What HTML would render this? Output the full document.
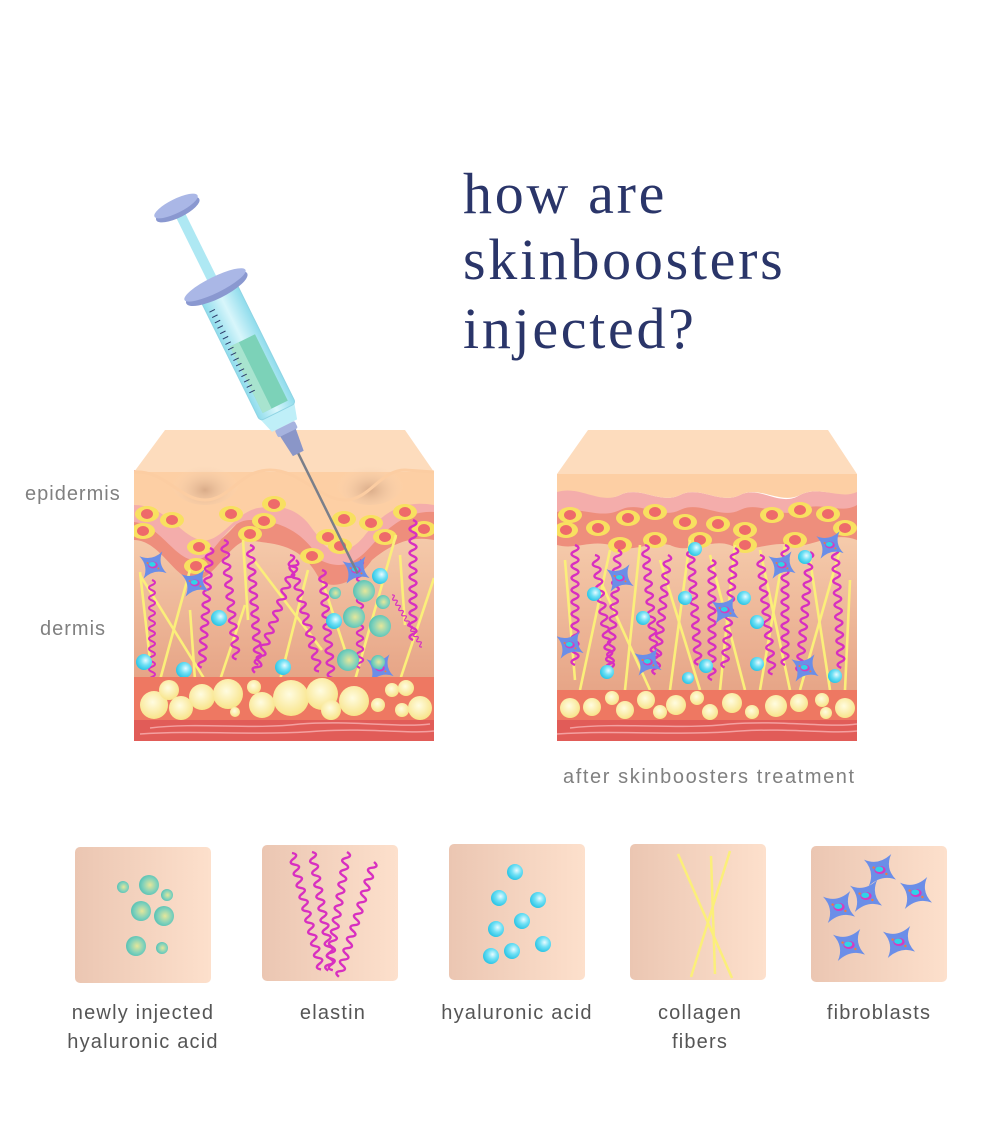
<!DOCTYPE html>
<html><head><meta charset="utf-8">
<style>
html,body{margin:0;padding:0;background:#fff;}
body{width:1000px;height:1137px;position:relative;overflow:hidden;}
.t{position:absolute;font-family:"Liberation Serif",serif;color:#2a3569;font-size:58px;left:463px;letter-spacing:2.7px;}
.l{position:absolute;font-family:"Liberation Sans",sans-serif;color:#808080;font-size:20px;letter-spacing:1px;}
.c{position:absolute;font-family:"Liberation Sans",sans-serif;color:#555;font-size:20px;letter-spacing:1.2px;text-align:center;width:220px;line-height:29px;}
</style></head><body>
<div class="t" style="top:160px">how are</div>
<div class="t" style="top:226px">skinboosters</div>
<div class="t" style="top:295px">injected?</div>
<div class="l" style="left:25px;top:483px">epidermis</div>
<div class="l" style="left:40px;top:618px">dermis</div>
<div class="l" style="left:563px;top:766px;letter-spacing:1.6px">after skinboosters treatment</div>
<div class="c" style="left:33px;top:999px">newly injected<br>hyaluronic acid</div>
<div class="c" style="left:223px;top:999px">elastin</div>
<div class="c" style="left:407px;top:999px">hyaluronic acid</div>
<div class="c" style="left:590px;top:999px">collagen<br>fibers</div>
<div class="c" style="left:769px;top:999px">fibroblasts</div>

<svg width="1000" height="1137" style="position:absolute;left:0;top:0">
<defs>
<linearGradient id="box" x1="0" x2="1"><stop offset="0" stop-color="#ebc6b2"/><stop offset="1" stop-color="#fde0cc"/></linearGradient>
<linearGradient id="derm" x1="0" y1="0" x2="0" y2="1"><stop offset="0" stop-color="#f9d4b4"/><stop offset="1" stop-color="#e6a486"/></linearGradient>
<radialGradient id="ha" cx="0.6" cy="0.4" r="0.6"><stop offset="0" stop-color="#e8fbff"/><stop offset="0.5" stop-color="#6fe0f5"/><stop offset="1" stop-color="#2ec6e6"/></radialGradient>
<radialGradient id="nha" cx="0.55" cy="0.5" r="0.6"><stop offset="0" stop-color="#e6e79a"/><stop offset="0.6" stop-color="#7fd1bb"/><stop offset="1" stop-color="#4cbdb2"/></radialGradient>
<radialGradient id="fat" cx="0.45" cy="0.4" r="0.6"><stop offset="0" stop-color="#fffce0"/><stop offset="1" stop-color="#f8e48a"/></radialGradient>
<radialGradient id="dip" cx="0.5" cy="0.7" r="0.5"><stop offset="0" stop-color="#d9ab88"/><stop offset="1" stop-color="#fbd8b8" stop-opacity="0"/></radialGradient>
<linearGradient id="barrel" x1="0" x2="1"><stop offset="0" stop-color="#8fdcec"/><stop offset="0.5" stop-color="#d8f6fb"/><stop offset="1" stop-color="#8fdcec"/></linearGradient>
<symbol id="sq" overflow="visible"><path d="M0,0 q7,3 0,6 t0,6 t0,6 t0,6 t0,6 t0,6 t0,6 t0,6 t0,6 t0,6 t0,6 t0,6 t0,6 t0,6 t0,6 t0,6 t0,6 t0,6 t0,6 t0,6" fill="none" stroke="#d82fc0" stroke-width="2.4"/></symbol>
<symbol id="fb" overflow="visible"><g transform="scale(0.68)"><path d="M-20,-13 Q-2,-5 14,-20 Q6,-2 20,12 Q2,5 -14,20 Q-6,2 -20,-13Z" fill="#6b8ee8"/><ellipse cx="0" cy="0" rx="7" ry="5" fill="#d43cc0"/><ellipse cx="-1" cy="-1" rx="5" ry="3.5" fill="#2fd4e8"/><circle cx="-8" cy="-3" r="1.5" fill="#f07a40"/><circle cx="8" cy="5" r="1.5" fill="#f07a40"/></g></symbol>
<symbol id="fb2" overflow="visible"><g transform="scale(0.8)"><path d="M-20,-13 Q-2,-5 14,-20 Q6,-2 20,12 Q2,5 -14,20 Q-6,2 -20,-13Z" fill="#6b8ee8"/><ellipse cx="0" cy="0" rx="7" ry="5" fill="#d43cc0"/><ellipse cx="-1" cy="-1" rx="5" ry="3.5" fill="#2fd4e8"/><circle cx="-8" cy="-3" r="1.5" fill="#f07a40"/><circle cx="8" cy="5" r="1.5" fill="#f07a40"/></g></symbol>
<symbol id="cell" overflow="visible"><ellipse rx="12" ry="8" fill="#f8e060"/><ellipse rx="6" ry="5" fill="#ee6a6a"/></symbol>
<clipPath id="cl"><rect x="134" y="430" width="300" height="311"/></clipPath>
<clipPath id="cr"><rect x="557" y="430" width="300" height="311"/></clipPath>
</defs>

<rect x="75" y="847" width="136" height="136" rx="5" fill="url(#box)"/>
<rect x="262" y="845" width="136" height="136" rx="5" fill="url(#box)"/>
<rect x="449" y="844" width="136" height="136" rx="5" fill="url(#box)"/>
<rect x="630" y="844" width="136" height="136" rx="5" fill="url(#box)"/>
<rect x="811" y="846" width="136" height="136" rx="5" fill="url(#box)"/>
<g fill="url(#nha)"><circle cx="123" cy="887" r="6"/><circle cx="149" cy="885" r="10"/><circle cx="167" cy="895" r="6"/><circle cx="141" cy="911" r="10"/><circle cx="164" cy="916" r="10"/><circle cx="136" cy="946" r="10"/><circle cx="162" cy="948" r="6"/></g>
<g transform="translate(292,853) rotate(-14)"><use href="#sq"/></g>
<g transform="translate(312,852) rotate(-10)"><use href="#sq"/></g>
<g transform="translate(347,852) rotate(9)"><use href="#sq"/></g>
<g transform="translate(374,862) rotate(17)"><use href="#sq"/></g>
<g fill="url(#ha)"><circle cx="515" cy="872" r="8"/><circle cx="499" cy="898" r="8"/><circle cx="538" cy="900" r="8"/><circle cx="522" cy="921" r="8"/><circle cx="496" cy="929" r="8"/><circle cx="543" cy="944" r="8"/><circle cx="491" cy="956" r="8"/><circle cx="512" cy="951" r="8"/></g>
<g stroke="#fbef7a" stroke-width="2.5"><line x1="678" y1="854" x2="732" y2="978"/><line x1="711" y1="856" x2="715" y2="974"/><line x1="730" y1="851" x2="691" y2="977"/></g>
<use href="#fb2" x="880" y="870"/><use href="#fb2" x="866" y="896"/><use href="#fb2" x="916" y="893"/><use href="#fb2" x="839" y="907"/><use href="#fb2" x="849" y="945"/><use href="#fb2" x="899" y="942"/>

<g clip-path="url(#cl)">
<rect x="134" y="500" width="300" height="180" fill="url(#derm)"/>
<path d="M134,480 C160,480 180,545 205,545 C230,545 240,505 270,505 C300,505 310,560 335,560 C360,560 370,500 400,500 L434,505 L434,540 C410,535 390,545 372,560 C355,585 330,590 320,580 C300,540 270,545 250,540 C230,540 215,580 195,580 C175,580 160,540 134,540Z" fill="#ee8e7c"/>
<path d="M134,470 C160,470 180,530 205,530 C230,530 240,490 270,490 C300,490 310,545 335,545 C360,545 370,487 400,487 L434,492 L434,512 C410,510 390,525 372,545 C355,565 340,570 320,560 C300,525 270,520 250,520 C225,520 215,560 195,560 C175,560 160,525 134,522Z" fill="#f4adab"/>
<path d="M134,472 L434,472 L434,505 C405,500 385,510 365,535 C350,555 330,555 320,540 C300,505 280,505 258,508 C235,512 220,545 200,540 C180,535 165,505 134,505Z" fill="#fdcfa4"/>
<path d="M165,430 L405,430 L434,472 L134,472Z" fill="#fddcbd"/>
<ellipse cx="205" cy="480" rx="35" ry="25" fill="url(#dip)"/><ellipse cx="370" cy="480" rx="35" ry="25" fill="url(#dip)"/>
<path d="M134,472 C165,470 180,500 205,500 C230,500 240,470 270,470 C300,470 320,500 345,500 C370,500 380,470 405,470 L434,472" fill="none" stroke="#fccda2" stroke-width="3"/>
<use href="#cell" x="147" y="514"/><use href="#cell" x="172" y="520"/><use href="#cell" x="143" y="531"/><use href="#cell" x="231" y="514"/><use href="#cell" x="264" y="521"/><use href="#cell" x="274" y="504"/><use href="#cell" x="250" y="534"/><use href="#cell" x="199" y="547"/><use href="#cell" x="196" y="566"/><use href="#cell" x="344" y="519"/><use href="#cell" x="371" y="523"/><use href="#cell" x="405" y="512"/><use href="#cell" x="424" y="529"/><use href="#cell" x="312" y="556"/><use href="#cell" x="328" y="537"/><use href="#cell" x="385" y="537"/><use href="#cell" x="340" y="546"/>
<g stroke="#fbef7a" stroke-width="2.6"><line x1="140" y1="572" x2="150" y2="660"/><line x1="140" y1="575" x2="205" y2="680"/><line x1="190" y1="570" x2="160" y2="680"/><line x1="190" y1="610" x2="195" y2="680"/><line x1="245" y1="605" x2="220" y2="680"/><line x1="243" y1="540" x2="248" y2="620"/><line x1="250" y1="555" x2="322" y2="650"/><line x1="308" y1="570" x2="280" y2="680"/><line x1="322" y1="580" x2="345" y2="650"/><line x1="396" y1="535" x2="355" y2="680"/><line x1="400" y1="555" x2="405" y2="625"/><line x1="434" y1="578" x2="400" y2="680"/></g>
<g transform="translate(152,580) scale(0.85)"><use href="#sq"/></g><g transform="translate(210,548) rotate(4)"><use href="#sq"/></g><g transform="translate(224,540) rotate(-6)"><use href="#sq"/></g><g transform="translate(250,545) rotate(-4)"><use href="#sq"/></g><g transform="translate(296,560) rotate(20)"><use href="#sq"/></g><g transform="translate(290,555) rotate(-14)"><use href="#sq"/></g><g transform="translate(322,570) rotate(-5)"><use href="#sq"/></g><g transform="translate(360,560) scale(0.9)"><use href="#sq"/></g><g transform="translate(392,595) rotate(-30) scale(0.5)"><use href="#sq"/></g><g transform="translate(413,520)"><use href="#sq"/></g>
<use href="#fb" x="153" y="565"/><use href="#fb" x="195" y="583"/><use href="#fb" x="356" y="570"/><use href="#fb" x="380" y="668"/>
<g fill="url(#ha)"><circle cx="219" cy="618" r="8"/><circle cx="144" cy="662" r="8"/><circle cx="184" cy="670" r="8"/><circle cx="283" cy="667" r="8"/><circle cx="334" cy="621" r="8"/><circle cx="380" cy="576" r="8"/></g>
<g fill="url(#nha)"><circle cx="364" cy="591" r="11"/><circle cx="335" cy="593" r="6"/><circle cx="383" cy="602" r="7"/><circle cx="354" cy="617" r="11"/><circle cx="380" cy="626" r="11"/><circle cx="348" cy="660" r="11"/><circle cx="378" cy="662" r="7"/></g>
<rect x="134" y="677" width="300" height="45" fill="#ee7862"/>
<g fill="url(#fat)"><circle cx="154" cy="705" r="14"/><circle cx="169" cy="690" r="10"/><circle cx="181" cy="708" r="12"/><circle cx="202" cy="697" r="13"/><circle cx="228" cy="694" r="15"/><circle cx="235" cy="712" r="5"/><circle cx="254" cy="687" r="7"/><circle cx="262" cy="705" r="13"/><circle cx="291" cy="698" r="18"/><circle cx="322" cy="694" r="16"/><circle cx="331" cy="710" r="10"/><circle cx="354" cy="701" r="15"/><circle cx="378" cy="705" r="7"/><circle cx="392" cy="690" r="7"/><circle cx="406" cy="688" r="8"/><circle cx="402" cy="710" r="7"/><circle cx="420" cy="708" r="12"/></g>
<rect x="134" y="720" width="300" height="21" fill="#e15c58"/>
<g fill="none" stroke="#f4a0a0" stroke-width="1.5"><path d="M150,728 C200,722 250,730 300,724 C350,720 400,728 430,724"/><path d="M140,734 C200,730 260,736 320,731 C370,728 410,734 434,731"/></g>
</g>

<g clip-path="url(#cr)">
<rect x="557" y="500" width="300" height="195" fill="url(#derm)"/>
<path d="M557,500 C580,490 600,515 620,505 C640,495 660,515 680,505 C700,495 720,515 740,505 C760,495 780,518 800,505 C820,495 840,510 857,500 L857,540 C830,530 810,550 790,545 C770,540 750,555 730,545 C710,538 690,555 670,545 C650,540 630,555 610,545 C590,540 575,550 557,545Z" fill="#ee8e7c"/>
<path d="M557,490 C580,480 600,505 620,495 C640,485 660,505 680,495 C700,485 720,505 740,495 C760,485 780,508 800,495 C820,485 840,500 857,490 L857,505 C840,515 820,500 800,510 C780,520 760,500 740,510 C720,520 700,500 680,510 C660,520 640,500 620,510 C600,520 580,505 557,512Z" fill="#f4adab"/>
<path d="M557,474 L857,474 L857,492 C840,500 820,485 800,495 C780,505 760,485 740,495 C720,505 700,485 680,495 C660,505 640,485 620,495 C600,505 580,485 557,492Z" fill="#fdcfa4"/>
<path d="M588,430 L828,430 L857,474 L557,474Z" fill="#fddcbd"/>
<use href="#cell" x="570" y="515"/><use href="#cell" x="598" y="528"/><use href="#cell" x="628" y="518"/><use href="#cell" x="655" y="512"/><use href="#cell" x="685" y="522"/><use href="#cell" x="718" y="524"/><use href="#cell" x="745" y="530"/><use href="#cell" x="772" y="515"/><use href="#cell" x="800" y="510"/><use href="#cell" x="828" y="514"/><use href="#cell" x="845" y="528"/><use href="#cell" x="566" y="530"/><use href="#cell" x="620" y="545"/><use href="#cell" x="655" y="540"/><use href="#cell" x="700" y="540"/><use href="#cell" x="745" y="545"/><use href="#cell" x="795" y="540"/>
<g stroke="#fbef7a" stroke-width="2.6"><line x1="565" y1="560" x2="575" y2="680"/><line x1="610" y1="550" x2="580" y2="690"/><line x1="600" y1="580" x2="650" y2="690"/><line x1="640" y1="545" x2="625" y2="690"/><line x1="660" y1="560" x2="700" y2="690"/><line x1="690" y1="540" x2="670" y2="690"/><line x1="710" y1="555" x2="745" y2="690"/><line x1="735" y1="545" x2="720" y2="690"/><line x1="760" y1="550" x2="790" y2="690"/><line x1="785" y1="545" x2="760" y2="690"/><line x1="810" y1="560" x2="830" y2="690"/><line x1="840" y1="550" x2="800" y2="690"/><line x1="850" y1="580" x2="845" y2="690"/></g>
<g transform="translate(575,545)"><use href="#sq"/></g><g transform="translate(595,555) rotate(-8)"><use href="#sq"/></g><g transform="translate(618,550) rotate(4)"><use href="#sq"/></g><g transform="translate(645,545) rotate(-5)"><use href="#sq"/></g><g transform="translate(668,555) rotate(6)"><use href="#sq"/></g><g transform="translate(690,545) rotate(-4)"><use href="#sq"/></g><g transform="translate(712,560)"><use href="#sq"/></g><g transform="translate(735,548) rotate(5)"><use href="#sq"/></g><g transform="translate(760,555) rotate(-6)"><use href="#sq"/></g><g transform="translate(785,545)"><use href="#sq"/></g><g transform="translate(810,552) rotate(5)"><use href="#sq"/></g><g transform="translate(835,548) rotate(-3)"><use href="#sq"/></g>
<use href="#fb" x="570" y="645"/><use href="#fb" x="620" y="578"/><use href="#fb" x="648" y="662"/><use href="#fb" x="725" y="610"/><use href="#fb" x="782" y="565"/><use href="#fb" x="830" y="545"/><use href="#fb" x="805" y="668"/>
<g fill="url(#ha)"><circle cx="695" cy="549" r="7"/><circle cx="805" cy="557" r="7"/><circle cx="594" cy="594" r="7"/><circle cx="685" cy="598" r="7"/><circle cx="744" cy="598" r="7"/><circle cx="643" cy="618" r="7"/><circle cx="757" cy="622" r="7"/><circle cx="607" cy="672" r="7"/><circle cx="706" cy="666" r="7"/><circle cx="757" cy="664" r="7"/><circle cx="835" cy="676" r="7"/><circle cx="688" cy="678" r="6"/></g>
<rect x="557" y="690" width="300" height="32" fill="#ee7862"/>
<g fill="url(#fat)"><circle cx="570" cy="708" r="10"/><circle cx="592" cy="707" r="9"/><circle cx="612" cy="698" r="7"/><circle cx="625" cy="710" r="9"/><circle cx="646" cy="700" r="9"/><circle cx="660" cy="712" r="7"/><circle cx="676" cy="705" r="10"/><circle cx="697" cy="698" r="7"/><circle cx="710" cy="712" r="8"/><circle cx="732" cy="703" r="10"/><circle cx="752" cy="712" r="7"/><circle cx="776" cy="706" r="11"/><circle cx="799" cy="703" r="9"/><circle cx="822" cy="700" r="7"/><circle cx="826" cy="713" r="6"/><circle cx="845" cy="708" r="10"/></g>
<rect x="557" y="720" width="300" height="21" fill="#e15c58"/>
<g fill="none" stroke="#f4a0a0" stroke-width="1.5"><path d="M570,728 C620,722 680,730 730,724 C780,720 830,728 857,724"/><path d="M557,734 C620,730 680,736 740,731 C790,728 830,734 857,731"/></g>
</g>

<g transform="translate(176,206) rotate(-26.3)">
<line x1="0" y1="275" x2="0" y2="410" stroke="#7a7f8a" stroke-width="2.5"/>
<path d="M-9,250 L9,250 L6,276 L-6,276Z" fill="#8a96c8"/>
<rect x="-11" y="245" width="22" height="8" rx="2" fill="#a6b3df"/>
<path d="M-20,225 L20,225 L14,245 L-14,245Z" fill="#bfeff8"/>
<rect x="-5" y="0" width="10" height="100" fill="#aee8f3"/>
<rect x="-20" y="92" width="40" height="138" rx="4" fill="url(#barrel)" stroke="#8fd4e4" stroke-width="1"/>
<rect x="-14" y="150" width="28" height="74" fill="#7cd2b8"/>
<rect x="-14" y="150" width="10" height="74" fill="#a8e4cf"/>
<g stroke="#2e3d6a" stroke-width="1">
<line x1="-17" y1="110" x2="-11" y2="110"/><line x1="-17" y1="116" x2="-11" y2="116"/><line x1="-17" y1="122" x2="-11" y2="122"/><line x1="-17" y1="128" x2="-11" y2="128"/><line x1="-17" y1="134" x2="-11" y2="134"/><line x1="-17" y1="140" x2="-11" y2="140"/><line x1="-17" y1="146" x2="-11" y2="146"/><line x1="-17" y1="152" x2="-11" y2="152"/><line x1="-17" y1="158" x2="-11" y2="158"/><line x1="-17" y1="164" x2="-11" y2="164"/><line x1="-17" y1="170" x2="-11" y2="170"/><line x1="-17" y1="176" x2="-11" y2="176"/><line x1="-17" y1="182" x2="-11" y2="182"/><line x1="-17" y1="188" x2="-11" y2="188"/><line x1="-17" y1="194" x2="-11" y2="194"/><line x1="-17" y1="200" x2="-11" y2="200"/>
</g>
<ellipse cx="0" cy="92" rx="34" ry="10" fill="#8a98d0"/>
<ellipse cx="0" cy="88" rx="34" ry="8" fill="#aab7e6"/>
<ellipse cx="0" cy="4" rx="24" ry="8" fill="#8a98d0"/>
<ellipse cx="0" cy="0" rx="24" ry="7" fill="#aab7e6"/>
</g>
</svg>
</body></html>
